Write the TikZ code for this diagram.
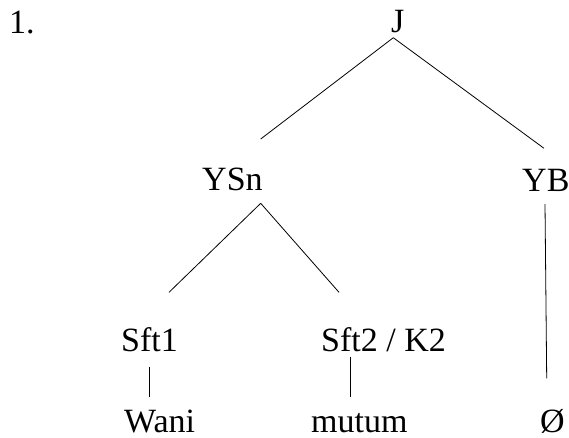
\documentclass[tikz,border=0pt]{standalone}
\usepackage{fontspec}
\setmainfont{Liberation Serif}
\begin{document}
\begin{tikzpicture}[x=1pt,y=-1pt,
  lbl/.style={anchor=base west, inner sep=0pt, text depth=0pt, font=\fontsize{34}{40}\selectfont},
  edge/.style={line width=0.8pt, black}]
\useasboundingbox (0,0) rectangle (569,437);
% labels
\node[lbl] (num)  at (9,33.3)   {1.};
\node[lbl] (J)    at (391,32.7) {J};
\node[lbl] (YSn)  at (202,190.5) {YSn};
\node[lbl] (YB)   at (522,191)   {YB};
\node[lbl] (Sft1) at (121,351.7) {Sft1};
\node[lbl] (Sft2) at (321,351.7) {Sft2 / K2};
\node[lbl] (Wani) at (124,432)   {Wani};
\node[lbl] (mutum) at (311,432)  {mutum};
\node[lbl] (O)    at (540,432)   {Ø};
% line end points
\coordinate (Jv)   at (393.3,37.7);
\coordinate (YSnT) at (260.7,139);
\coordinate (YBT)  at (544,148.3);
\coordinate (YSnv) at (260.7,203.3);
\coordinate (S1T)  at (169,292.3);
\coordinate (S2T)  at (339,292.3);
\coordinate (YBv)  at (545,204);
\coordinate (OT)   at (546.7,378.3);
\coordinate (S1b)  at (149,366.7);
\coordinate (Wt)   at (149,397);
\coordinate (S2b)  at (350.7,356.7);
\coordinate (mt)   at (350.7,397);
% connectors
\draw[edge] (Jv) -- (YSnT);
\draw[edge] (Jv) -- (YBT);
\draw[edge] (YSnv) -- (S1T);
\draw[edge] (YSnv) -- (S2T);
\draw[edge] (YBv) -- (OT);
\draw[edge] (S1b) -- (Wt);
\draw[edge] (S2b) -- (mt);
\end{tikzpicture}
\end{document}
